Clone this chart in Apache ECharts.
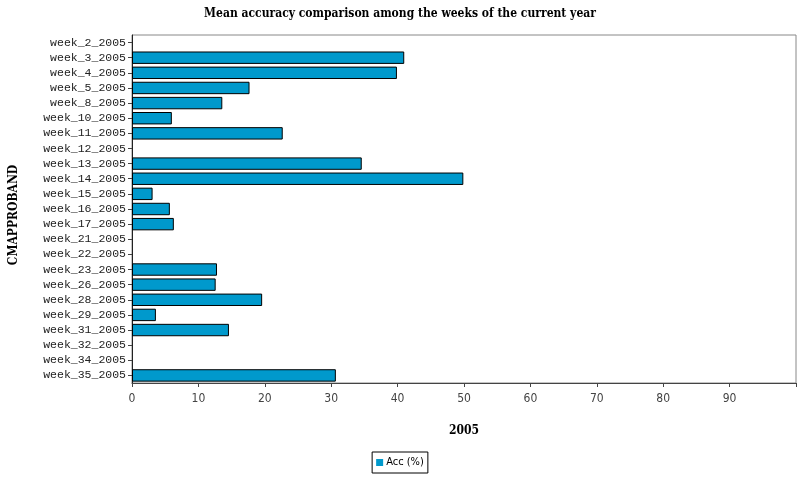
<!DOCTYPE html>
<html><head><meta charset="utf-8">
<script src="https://cdn.jsdelivr.net/npm/echarts@6/dist/echarts.min.js"></script>
<style>html,body{margin:0;padding:0;background:#fff}#c{width:800px;height:480px}</style>
</head><body><div id="c"></div>
<script>
var categories = ["week_2_2005","week_3_2005","week_4_2005","week_5_2005","week_8_2005","week_10_2005","week_11_2005","week_12_2005","week_13_2005","week_14_2005","week_15_2005","week_16_2005","week_17_2005","week_21_2005","week_22_2005","week_23_2005","week_26_2005","week_28_2005","week_29_2005","week_31_2005","week_32_2005","week_34_2005","week_35_2005"];
var accValues = [null,41.0,39.9,17.7,13.6,6.0,22.7,null,34.6,49.9,3.1,5.7,6.3,null,null,12.8,12.6,19.6,3.6,14.6,null,null,30.7];
var xTicks = [0,10,20,30,40,50,60,70,80,90];
var chart = echarts.init(document.getElementById('c'), null, {renderer:'canvas'});
chart.setOption({
  animation:false,
  title:{text:'Mean accuracy comparison among the weeks of the current year',left:'center',top:3,
    textStyle:{fontFamily:'DejaVu Serif Condensed, DejaVu Serif',fontWeight:'bold',fontSize:12,color:'#000'}},
  grid:{left:132,right:4,top:35,bottom:97,show:true,borderColor:'#888',borderWidth:1,backgroundColor:'#fff'},
  legend:{bottom:7,left:'center',data:['Acc (%)'],itemWidth:7,itemHeight:7,itemGap:4,
    borderColor:'#000',borderWidth:1,padding:[5,4,5,4],icon:'rect',
    itemStyle:{borderWidth:0},
    textStyle:{fontFamily:'DejaVu Sans Condensed, DejaVu Sans',fontSize:11,color:'#000',padding:[0,0,0,-2]}},
  xAxis:{type:'value',min:0,max:100,interval:10,name:'2005',nameLocation:'middle',nameGap:42,
    nameTextStyle:{fontFamily:'DejaVu Serif Condensed, DejaVu Serif',fontWeight:'bold',fontSize:12,color:'#000'},
    axisLine:{show:true,lineStyle:{color:'#444'}},axisTick:{show:true,length:4,lineStyle:{color:'#444'}},
    splitLine:{show:false},
    axisLabel:{fontFamily:'DejaVu Sans Condensed, DejaVu Sans',fontSize:12,color:'#444',margin:10,
      formatter:function(v){return xTicks.indexOf(v)>=0?String(v):'';}}},
  yAxis:{type:'category',data:categories,inverse:true,name:'CMAPPROBAND',nameLocation:'middle',nameGap:112,nameRotate:90,
    nameTextStyle:{fontFamily:'DejaVu Serif Condensed, DejaVu Serif',fontWeight:'bold',fontSize:12,color:'#000',padding:[0,12,0,0]},
    axisLine:{show:true,lineStyle:{color:'#222'}},axisTick:{show:true,length:4,alignWithLabel:true,lineStyle:{color:'#444'}},
    axisLabel:{interval:0,fontFamily:'Liberation Mono',fontSize:11.5,color:'#222',margin:6}},
  series:[{name:'Acc (%)',type:'bar',data:accValues,barCategoryGap:'18%',
    itemStyle:{color:'#0099CC',borderColor:'#000',borderWidth:1}}]
});
</script></body></html>
